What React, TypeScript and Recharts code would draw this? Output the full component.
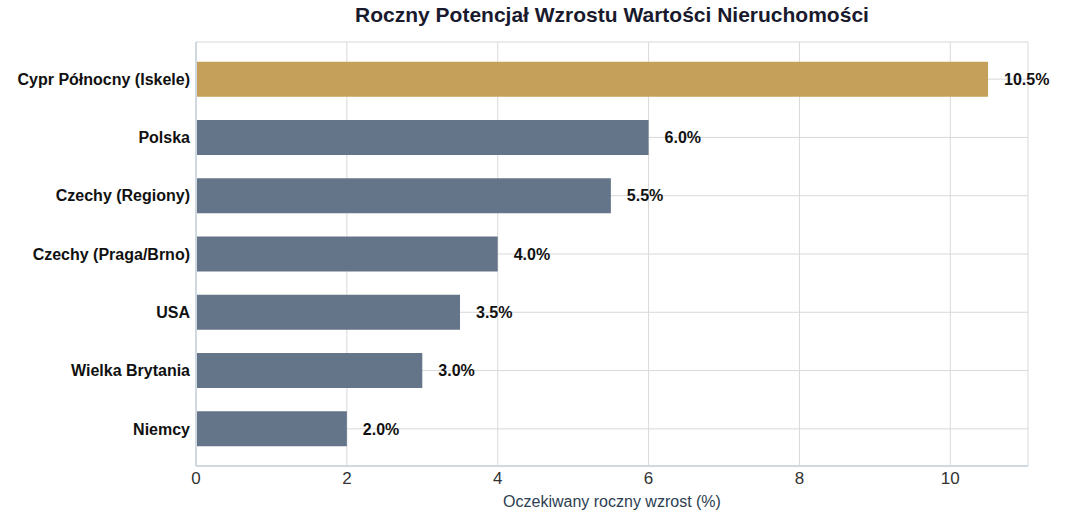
import React from "react";
import { BarChart, Bar, XAxis, YAxis, CartesianGrid, LabelList, Cell, Label } from "recharts";

const categories = ["Cypr Północny (Iskele)", "Polska", "Czechy (Regiony)", "Czechy (Praga/Brno)", "USA", "Wielka Brytania", "Niemcy"];
const growthValues = [10.5, 6.0, 5.5, 4.0, 3.5, 3.0, 2.0];
const xTicks = [0, 2, 4, 6, 8, 10];
const highlightIndex = 0;

const data = categories.map((name, i) => ({ name, value: growthValues[i] }));

const FONT = '"Liberation Sans", Arial, sans-serif';

export default function App() {
  return (
    <div style={{ position: "absolute", left: 0, top: 0, width: 1066, height: 525, background: "#fff", fontFamily: FONT }}>
      <div style={{ position: "absolute", left: 0, top: 3, width: 1224, textAlign: "center", fontSize: 21, fontWeight: "bold", color: "#1a1a2e" }}>
        Roczny Potencjał Wzrostu Wartości Nieruchomości
      </div>
      <BarChart
        width={1066}
        height={525}
        data={data}
        layout="vertical"
        margin={{ top: 42, right: 38, left: 0, bottom: 0 }}
        barCategoryGap="20%"
      >
        <CartesianGrid stroke="#d9d9d9" strokeWidth={1} />
        <XAxis
          type="number"
          domain={[0, 11.03]}
          ticks={xTicks}
          allowDataOverflow
          height={59}
          tickLine={false}
          tickSize={0}
          axisLine={{ stroke: "#d0d8e0", strokeWidth: 2 }}
          tick={{ fontSize: 17, fill: "#333", fontFamily: FONT }}
          tickMargin={6}
        >
          <Label value="Oczekiwany roczny wzrost (%)" position="insideBottom" offset={18} style={{ fontSize: 16, fill: "#2c3e50", fontFamily: FONT }} />
        </XAxis>
        <YAxis
          type="category"
          dataKey="name"
          width={196}
          padding={{ top: 8, bottom: 8 }}
          tickLine={false}
          tickSize={0}
          axisLine={{ stroke: "#d0d8e0", strokeWidth: 2 }}
          tick={{ fontSize: 16, fontWeight: "bold", fill: "#111", fontFamily: FONT }}
          tickMargin={6}
        />
        <Bar dataKey="value" isAnimationActive={false}>
          {data.map((d, i) => (
            <Cell key={d.name} fill={i === highlightIndex ? "#C4A05A" : "#647489"} />
          ))}
          <LabelList
            dataKey="value"
            position="right"
            offset={16}
            formatter={(v: number) => `${v.toFixed(1)}%`}
            style={{ fontSize: 16, fontWeight: "bold", fill: "#111", fontFamily: FONT }}
          />
        </Bar>
      </BarChart>
    </div>
  );
}
